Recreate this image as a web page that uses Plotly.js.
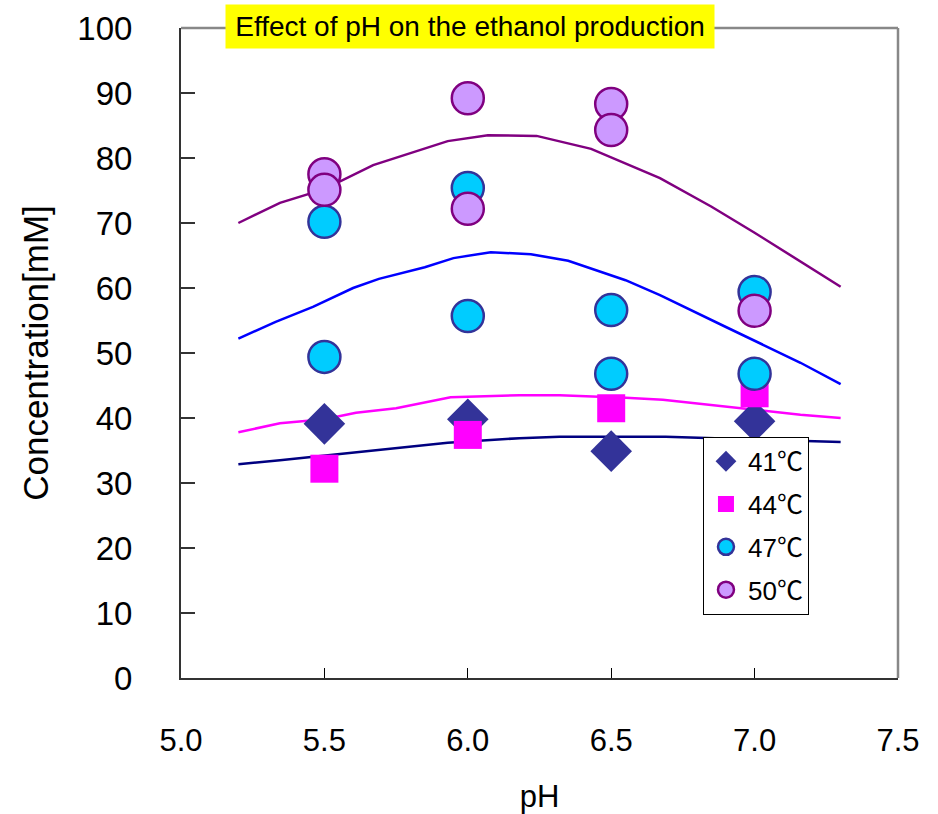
<!DOCTYPE html>
<html>
<head>
<meta charset="utf-8">
<script src="https://cdn.plot.ly/plotly-3.0.1.min.js"></script>
<style>html,body{margin:0;padding:0;background:#fff;}#chart{width:938px;height:814px;}</style>
</head>
<body>
<div id="chart"></div>
<script>
// ---- data ----
var ph4 = [5.5, 6.0, 6.5, 7.0];
var c41 = [39.1, 39.8, 34.9, 39.5];
var c44 = [32.2, 37.4, 41.5, 43.8];
var ph47 = [5.5, 5.5, 6.0, 6.0, 6.5, 6.5, 7.0, 7.0];
var c47 = [70.2, 49.4, 75.4, 55.7, 56.6, 46.8, 59.4, 46.8];
var ph50 = [5.5, 5.5, 6.0, 6.0, 6.5, 6.5, 7.0];
var c50 = [77.5, 75.1, 89.2, 72.2, 88.3, 84.3, 56.5];

var fitX41 = [5.2, 5.345, 5.93, 6.07, 6.18, 6.32, 6.69, 7.3];
var fit41 = [32.9, 33.5, 36.2, 36.6, 36.9, 37.1, 37.1, 36.3];
var fitX44 = [5.2, 5.345, 5.5, 5.61, 5.75, 5.84, 5.94, 6.18, 6.32, 6.55, 6.68, 7.16, 7.3];
var fit44 = [37.8, 39.2, 39.8, 40.8, 41.5, 42.3, 43.2, 43.5, 43.5, 43.1, 42.8, 40.5, 40.0];
var fitX47 = [5.2, 5.33, 5.46, 5.6, 5.69, 5.85, 5.95, 6.08, 6.22, 6.35, 6.55, 6.67, 6.9, 7.16, 7.3];
var fit47 = [52.2, 54.8, 57.1, 60.0, 61.4, 63.2, 64.6, 65.5, 65.2, 64.2, 61.2, 58.9, 54.0, 48.5, 45.2];
var fitX50 = [5.2, 5.345, 5.5, 5.67, 5.93, 6.07, 6.24, 6.43, 6.67, 6.85, 7.0, 7.3];
var fit50 = [70.0, 73.1, 75.2, 78.9, 82.6, 83.5, 83.4, 81.4, 76.9, 72.5, 68.5, 60.2];

var seriesNames = ['41\u2103', '44\u2103', '47\u2103', '50\u2103'];
var xTicks = [5.0, 5.5, 6.0, 6.5, 7.0, 7.5];
var yTicks = [0, 10, 20, 30, 40, 50, 60, 70, 80, 90, 100];
var titleText = 'Effect of pH on the ethanol production';
var xTitle = 'pH';
var yTitle = 'Concentration[mM]';

var FONT = 'Liberation Sans, Arial, Noto Sans CJK JP, sans-serif';

function fitLine(x, y, color) {
  return {x: x, y: y, mode: 'lines', type: 'scatter', showlegend: false,
          hoverinfo: 'skip', line: {color: color, width: 2.5}};
}

var data = [
  fitLine(fitX41, fit41, '#000080'),
  fitLine(fitX44, fit44, '#FF00FF'),
  fitLine(fitX47, fit47, '#0000FF'),
  fitLine(fitX50, fit50, '#800080'),
  {x: ph4, y: c41, name: seriesNames[0], legendgroup: 'a', mode: 'markers', type: 'scatter',
   marker: {symbol: 'diamond', size: 32, color: '#333399', line: {width: 0}}},
  {x: ph4, y: c44, name: seriesNames[1], legendgroup: 'b', mode: 'markers', type: 'scatter',
   marker: {symbol: 'square', size: 28, color: '#FF00FF', line: {width: 0}}},
  {x: ph47, y: c47, name: seriesNames[2], legendgroup: 'c', mode: 'markers', type: 'scatter',
   marker: {symbol: 'circle', size: 32, color: '#00CCFF', line: {width: 2.5, color: '#333399'}}},
  {x: ph50, y: c50, name: seriesNames[3], legendgroup: 'd', mode: 'markers', type: 'scatter',
   marker: {symbol: 'circle', size: 32, color: '#CC99FF', line: {width: 2.5, color: '#800080'}}}
];

var layout = {
  width: 938, height: 814,
  margin: {l: 181, r: 40, t: 28, b: 136},
  paper_bgcolor: '#fff', plot_bgcolor: '#fff',
  font: {family: FONT, color: '#000'},
  showlegend: true,
  legend: {x: 0.728, y: 0.371, xanchor: 'left', yanchor: 'top',
           bgcolor: '#fff', bordercolor: '#000', borderwidth: 1,
           font: {size: 26, family: FONT}, tracegroupgap: 6, itemwidth: 34},
  xaxis: {range: [5.0, 7.5], tickvals: xTicks, tickformat: '.1f',
          showgrid: false, zeroline: false, showline: true, linecolor: '#333', linewidth: 2,
          ticks: 'inside', ticklen: 10, tickcolor: '#000', tickwidth: 1,
          tickfont: {size: 31, family: FONT}, ticklabelstandoff: 34,
          title: {text: xTitle, font: {size: 31, family: FONT}, standoff: 30}},
  yaxis: {range: [0, 100], tickvals: yTicks,
          showgrid: false, zeroline: false, showline: true, linecolor: '#333', linewidth: 2,
          ticks: 'inside', ticklen: 14, tickcolor: '#333', tickwidth: 1.5,
          tickfont: {size: 33, family: FONT}, ticklabelstandoff: 40,
          title: {text: yTitle, font: {size: 35, family: FONT}, standoff: 18}},
  shapes: [
    {type: 'line', xref: 'paper', yref: 'paper', x0: 0, x1: 1, y0: 1, y1: 1,
     line: {color: '#888', width: 2.5}},
    {type: 'line', xref: 'paper', yref: 'paper', x0: 1, x1: 1, y0: 0, y1: 1,
     line: {color: '#888', width: 2.5}}
  ],
  annotations: [
    {text: titleText, xref: 'paper', yref: 'paper', x: 0.403, y: 1.0023,
     xanchor: 'center', yanchor: 'middle', showarrow: false,
     bgcolor: '#FFFF00', width: 486, height: 41,
     font: {size: 28, family: FONT, color: '#000'}}
  ]
};

Plotly.newPlot('chart', data, layout, {staticPlot: true, displayModeBar: false});
</script>
</body>
</html>
